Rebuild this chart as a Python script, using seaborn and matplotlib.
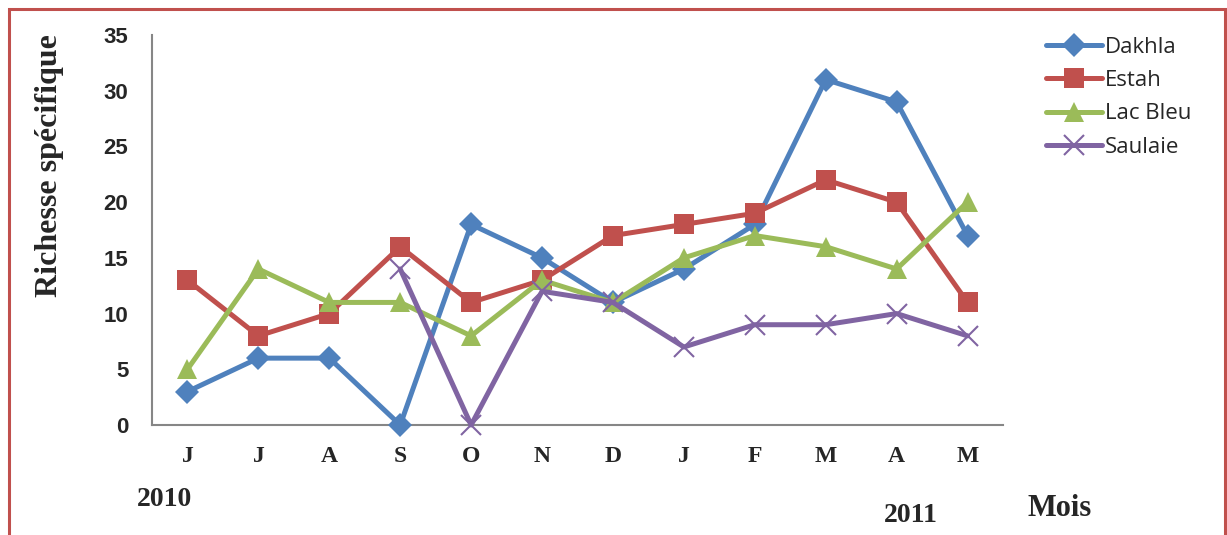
import numpy as np
import pandas as pd
import matplotlib
matplotlib.use("Agg")
import matplotlib.pyplot as plt
from matplotlib.patches import Rectangle
import seaborn as sns

months = ["J", "J", "A", "S", "O", "N", "D", "J", "F", "M", "A", "M"]
dakhla = [3, 6, 6, 0, 18, 15, 11, 14, 18, 31, 29, 17]
estah = [13, 8, 10, 16, 11, 13, 17, 18, 19, 22, 20, 11]
lac_bleu = [5, 14, 11, 11, 8, 13, 11, 15, 17, 16, 14, 20]
saulaie = [np.nan, np.nan, np.nan, 14, 0, 12, 11, 7, 9, 9, 10, 8]
sites = ["Dakhla", "Estah", "Lac Bleu", "Saulaie"]

colors = {"Dakhla": "#4F81BD", "Estah": "#C0504D",
          "Lac Bleu": "#9BBB59", "Saulaie": "#8064A2"}
markers = {"Dakhla": "D", "Estah": "s", "Lac Bleu": "^", "Saulaie": "x"}
msizes = {"Dakhla": 12, "Estah": 14, "Lac Bleu": 14, "Saulaie": 14}

frames = []
for name, vals in zip(sites, [dakhla, estah, lac_bleu, saulaie]):
    frames.append(pd.DataFrame({"pos": np.arange(len(months)),
                                "value": vals, "site": name}))
df = pd.concat(frames, ignore_index=True)

sns.set_style("white")
fig = plt.figure(figsize=(12.27, 5.35), dpi=100)
ax = fig.add_axes([152 / 1227, 1 - 425 / 535, 851 / 1227, 390 / 535])

for name in sites:
    sub = df[df["site"] == name].dropna()
    sns.lineplot(data=sub, x="pos", y="value", ax=ax, color=colors[name],
                 marker=markers[name], markersize=msizes[name],
                 markeredgewidth=1.5 if name == "Saulaie" else 0,
                 markeredgecolor=colors[name],
                 linewidth=3.6, label=name, sort=False, clip_on=False)

ax.set_xlim(-0.5, len(months) - 0.5)
ax.set_ylim(0, 35)
ax.set_yticks(range(0, 36, 5))
ax.set_yticklabels([str(v) for v in range(0, 36, 5)],
                   fontfamily="Liberation Sans", fontweight="bold", fontsize=16)
ax.set_xticks(range(len(months)))
ax.set_xticklabels(months, fontfamily="Liberation Serif",
                   fontweight="bold", fontsize=17)
ax.tick_params(axis="y", length=0, pad=17)
ax.tick_params(axis="x", length=0, pad=15)
ax.set_xlabel("")
ax.set_ylabel("")

for side in ["top", "right"]:
    ax.spines[side].set_visible(False)
for side in ["left", "bottom"]:
    ax.spines[side].set_color("#868686")
    ax.spines[side].set_linewidth(1.5)
    ax.spines[side].set_zorder(0.5)

fig.text(50 / 1227, 1 - 166 / 535, "Richesse spécifique", rotation=90,
         ha="center", va="center", fontfamily="Liberation Serif",
         fontweight="bold", fontsize=23)
fig.text(164 / 1227, 1 - 500 / 535, "2010", ha="center", va="center",
         fontfamily="Liberation Serif", fontweight="bold", fontsize=20)
fig.text(911 / 1227, 1 - 515 / 535, "2011", ha="center", va="center",
         fontfamily="Liberation Serif", fontweight="bold", fontsize=20)
fig.text(1060 / 1227, 1 - 508 / 535, "Mois", ha="center", va="center",
         fontfamily="Liberation Serif", fontweight="bold", fontsize=22)

leg = ax.legend(loc="upper left", bbox_to_anchor=(1046 / 1227, 1 - 37 / 535),
                bbox_transform=fig.transFigure, frameon=False,
                prop={"family": "Open Sans", "size": 16},
                handlelength=2.5, handletextpad=0.15, labelspacing=0.55,
                borderaxespad=0, borderpad=0)

fig.patches.append(Rectangle((9 / 1227, -0.05), 1216 / 1227, 1.05 - 9 / 535,
                             transform=fig.transFigure, fill=False,
                             edgecolor="#C0504D", linewidth=2.2))

fig.savefig("out.png", dpi=100)
